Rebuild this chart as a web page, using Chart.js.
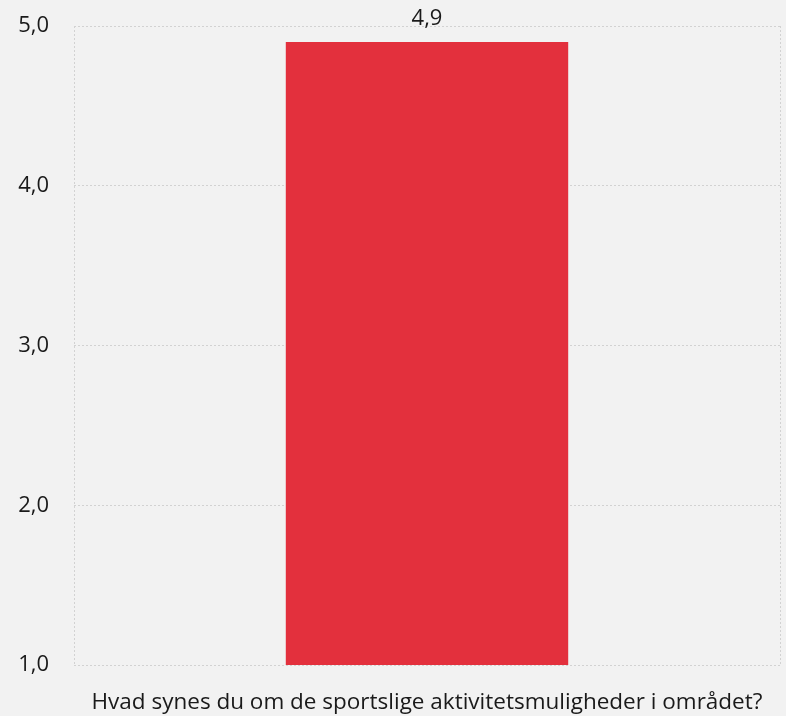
<!DOCTYPE html>
<html lang="da">
<head>
    <meta charset="UTF-8">
    <title>Sportslige aktivitetsmuligheder</title>
    <script src="https://cdn.jsdelivr.net/npm/chart.js"></script>
    <style>
        html, body {
            margin: 0;
            padding: 0;
            background-color: #f2f2f2;
        }

        #wrap {
            width: 786px;
            height: 716px;
        }
    </style>
</head>
<body>
    <div id="wrap">
        <canvas id="scoreChart" width="786" height="716"></canvas>
    </div>

    <script>
        // Data
        const categories = ['Hvad synes du om de sportslige aktivitetsmuligheder i området?'];
        const scores = [4.9];
        const yTicks = [1, 2, 3, 4, 5];

        const fmt = v => v.toFixed(1).replace('.', ',');

        // Draws the value above each bar
        const valueLabels = {
            id: 'valueLabels',
            afterDatasetsDraw(chart) {
                const ctx = chart.ctx;
                ctx.save();
                ctx.font = '22px "Open Sans", sans-serif';
                ctx.fillStyle = '#1a1a1a';
                ctx.textAlign = 'center';
                ctx.textBaseline = 'alphabetic';
                chart.getDatasetMeta(0).data.forEach((bar, i) => {
                    ctx.fillText(fmt(scores[i]), bar.x, bar.y - 17);
                });
                ctx.restore();
            }
        };

        const ctx = document.getElementById('scoreChart').getContext('2d');
        new Chart(ctx, {
            type: 'bar',
            data: {
                labels: categories,
                datasets: [{
                    data: scores,
                    backgroundColor: '#e3303d',
                    barPercentage: 0.4,
                    categoryPercentage: 1.0
                }]
            },
            options: {
                responsive: false,
                animation: false,
                layout: {
                    padding: { left: 0, right: 6, top: 26, bottom: 0 }
                },
                plugins: {
                    legend: { display: false },
                    tooltip: { enabled: false }
                },
                scales: {
                    x: {
                        afterFit: scale => {
                            scale.height = 51;
                            scale.paddingLeft = 0;
                            scale.paddingRight = 0;
                        },
                        grid: {
                            offset: true,
                            color: '#d2d2d2',
                            drawTicks: false
                        },
                        border: { display: false, dash: [2, 2] },
                        ticks: {
                            color: '#1a1a1a',
                            padding: 24,
                            maxRotation: 0,
                            font: { family: 'Open Sans', size: 22.5 }
                        }
                    },
                    y: {
                        min: 1,
                        max: 5,
                        afterFit: scale => {
                            scale.width = 74;
                            scale.paddingTop = 0;
                            scale.paddingBottom = 0;
                        },
                        afterBuildTicks: scale => {
                            scale.ticks = yTicks.map(v => ({ value: v }));
                        },
                        grid: {
                            color: '#d2d2d2',
                            drawTicks: false
                        },
                        border: { display: false, dash: [2, 2] },
                        ticks: {
                            color: '#1a1a1a',
                            padding: 25,
                            font: { family: 'Open Sans', size: 22 },
                            callback: v => fmt(v)
                        }
                    }
                }
            },
            plugins: [valueLabels]
        });
    </script>
</body>
</html>
